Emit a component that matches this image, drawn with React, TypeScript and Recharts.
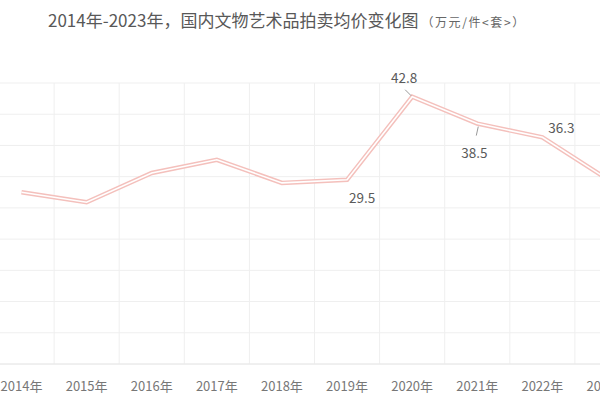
import { CartesianGrid, LabelList, Line, LineChart, XAxis, YAxis } from 'recharts'

const years = ['2014年', '2015年', '2016年', '2017年', '2018年', '2019年', '2020年', '2021年', '2022年', '2023年']
const avgPrice = [27.5, 25.9, 30.6, 32.7, 29.0, 29.5, 42.8, 38.5, 36.3, 29.6]
const yTicks = [0, 5, 10, 15, 20, 25, 30, 35, 40, 45]

const data = years.map((year, i) => ({ year, value: avgPrice[i] }))

const FONT = "'Noto Sans CJK SC', 'Noto Sans', sans-serif"

// where each shown value label sits relative to its point
const labelSpots: Record<number, { dx: number; dy: number; leader?: [number, number, number, number] }> = {
  5: { dx: 15, dy: 17 },
  6: { dx: -8, dy: -20, leader: [-7, -7, -1, -1] },
  7: { dx: -3, dy: 28, leader: [1, 3, -1, 12] },
  8: { dx: 19, dy: -10 },
}

function ValueLabel(props: any) {
  const { x, y, index, value } = props
  const spot = labelSpots[index]
  if (!spot) return null
  return (
    <g>
      {spot.leader && (
        <line
          x1={x + spot.leader[0]}
          y1={y + spot.leader[1]}
          x2={x + spot.leader[2]}
          y2={y + spot.leader[3]}
          stroke="#9a9a9a"
          strokeWidth={1}
        />
      )}
      <text
        x={x + spot.dx}
        y={y + spot.dy}
        textAnchor="middle"
        dominantBaseline="central"
        fontSize={13.5}
        fontFamily={FONT}
        fill="#5a5a5a"
      >
        {value}
      </text>
    </g>
  )
}

export default function App() {
  return (
    <div
      style={{
        position: 'fixed',
        left: 0,
        top: 0,
        width: 600,
        height: 400,
        overflow: 'hidden',
        background: '#fff',
      }}
    >
      <div
        style={{
          position: 'absolute',
          left: 48,
          top: 10,
          lineHeight: '20px',
          fontFamily: FONT,
          fontSize: 17,
          color: '#585858',
          whiteSpace: 'nowrap',
        }}
      >
        2014年-2023年，国内文物艺术品拍卖均价变化图
        <span style={{ fontSize: 12, color: '#666', marginLeft: 3, letterSpacing: 1.6 }}>（万元/件&lt;套&gt;）</span>
      </div>
      <div style={{ position: 'absolute', left: -40, top: 0 }}>
        <LineChart width={700} height={400} data={data} margin={{ top: 83, right: 20, left: 29, bottom: 0 }}>
          <CartesianGrid
            stroke="#efefef"
            verticalCoordinatesGenerator={({ offset }: any) =>
              years.slice(1).map((_, i) => offset.left + ((i + 1) * offset.width) / years.length)
            }
          />
          <XAxis
            dataKey="year"
            height={36}
            tickLine={false}
            tickMargin={12}
            padding={{ left: 32.5, right: 32.5 }}
            axisLine={{ stroke: '#e8e8e8' }}
            tick={{ fontSize: 13, fill: '#777', fontFamily: FONT }}
            interval={0}
          />
          <YAxis hide domain={[0, 45]} ticks={yTicks} />
          <Line
            dataKey="value"
            stroke="#f4c0bc"
            strokeWidth={4.5}
            dot={false}
            activeDot={false}
            isAnimationActive={false}
          />
          <Line
            dataKey="value"
            stroke="#ffffff"
            strokeWidth={1.6}
            dot={false}
            activeDot={false}
            isAnimationActive={false}
          >
            <LabelList dataKey="value" content={ValueLabel} />
          </Line>
        </LineChart>
      </div>
    </div>
  )
}
